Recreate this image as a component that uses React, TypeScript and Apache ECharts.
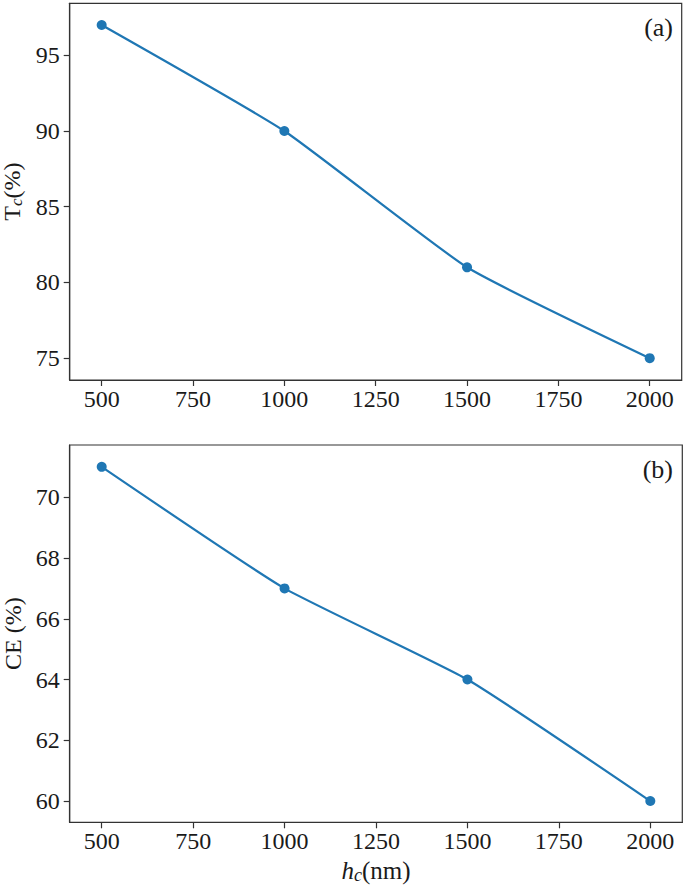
import React, { useEffect, useRef } from "react";
import * as echarts from "echarts";

const hc = [500, 1000, 1500, 2000];
const tc = [97, 90, 81, 75];
const ce = [71, 67, 64, 60];
const xTicks = [500, 750, 1000, 1250, 1500, 1750, 2000];
const tcTicks = [75, 80, 85, 90, 95];
const ceTicks = [60, 62, 64, 66, 68, 70];

const FONT = "'Liberation Serif', 'DejaVu Serif', serif";
const TEXT = "#1a1a1a";
const AXIS = "#333";
const BLUE = "#1f77b4";

export default function App() {
  const ref = useRef<HTMLDivElement>(null);
  useEffect(() => {
    document.body.style.margin = "0";
    const chart = echarts.init(ref.current!, null, { renderer: "svg" });
    const xAxisBase = (gridIndex: number) => ({
      type: "value",
      gridIndex,
      min: 412.5,
      max: 2087.5,
      splitLine: { show: false },
      axisLine: { show: true, lineStyle: { color: AXIS, width: 1.2 } },
      axisTick: {
        show: true,
        customValues: xTicks,
        length: 6,
        lineStyle: { color: AXIS, width: 1.2 },
      },
      axisLabel: {
        customValues: xTicks,
        formatter: (v: number) => String(v),
        fontFamily: FONT,
        fontSize: 24,
        color: TEXT,
        margin: 7,
      },
    });
    const yAxisBase = (gridIndex: number, min: number, max: number, ticks: number[]) => ({
      type: "value",
      gridIndex,
      min,
      max,
      splitLine: { show: false },
      axisLine: { show: true, lineStyle: { color: AXIS, width: 1.2 } },
      axisTick: {
        show: true,
        customValues: ticks,
        length: 6,
        lineStyle: { color: AXIS, width: 1.2 },
      },
      axisLabel: {
        customValues: ticks,
        formatter: (v: number) => String(v),
        fontFamily: FONT,
        fontSize: 24,
        color: TEXT,
        margin: 10,
      },
      nameLocation: "middle",
      nameRotate: 90,
    });
    chart.setOption({
      animation: false,
      backgroundColor: "#fff",
      grid: [
        { left: 69.7, top: 3.3, right: 3.3, height: 376.7, show: true, borderColor: AXIS, borderWidth: 1.2, backgroundColor: "transparent", outerBoundsMode: "none", containLabel: false },
        { left: 69.7, top: 445, right: 2.7, height: 377.3, show: true, borderColor: AXIS, borderWidth: 1.2, backgroundColor: "transparent", outerBoundsMode: "none", containLabel: false },
      ],
      xAxis: [
        xAxisBase(0),
        {
          ...xAxisBase(1),
          name: "{it|h}{sub|c}{n|(nm)}",
          nameLocation: "middle",
          nameGap: 34,
          nameTextStyle: {
            rich: {
              it: { fontFamily: FONT, fontSize: 25, fontStyle: "italic", color: TEXT },
              sub: { fontFamily: FONT, fontSize: 18, fontStyle: "italic", color: TEXT, padding: [10, 0, 0, 0] },
              n: { fontFamily: FONT, fontSize: 25, color: TEXT },
            },
          },
        },
      ],
      yAxis: [
        {
          ...yAxisBase(0, 73.56, 98.43, tcTicks),
          name: "{n|T}{sub|c}{n|(%)}",
          nameGap: 38,
          nameTextStyle: {
            rich: {
              n: { fontFamily: FONT, fontSize: 24, color: TEXT },
              sub: { fontFamily: FONT, fontSize: 17, fontStyle: "italic", color: TEXT, padding: [9, 0, 0, 0] },
            },
          },
        },
        {
          ...yAxisBase(1, 59.3, 71.72, ceTicks),
          name: "CE (%)",
          nameGap: 40,
          nameTextStyle: { fontFamily: FONT, fontSize: 24, color: TEXT },
        },
      ],
      graphic: [
        { type: "text", right: 12, top: 14, style: { text: "(a)", font: `26px ${FONT}`, fill: TEXT } },
        { type: "text", right: 12, top: 456, style: { text: "(b)", font: `26px ${FONT}`, fill: TEXT } },
      ],
      series: [
        {
          type: "line",
          xAxisIndex: 0,
          yAxisIndex: 0,
          data: hc.map((x, i) => [x, tc[i]]),
          smooth: 0.15,
          symbol: "circle",
          symbolSize: 10,
          lineStyle: { color: BLUE, width: 2.2 },
          itemStyle: { color: BLUE },
        },
        {
          type: "line",
          xAxisIndex: 1,
          yAxisIndex: 1,
          data: hc.map((x, i) => [x, ce[i]]),
          smooth: 0.15,
          symbol: "circle",
          symbolSize: 10,
          lineStyle: { color: BLUE, width: 2.2 },
          itemStyle: { color: BLUE },
        },
      ],
    });
    return () => chart.dispose();
  }, []);
  return <div ref={ref} style={{ position: "absolute", left: 0, top: 0, width: 685, height: 887 }} />;
}
